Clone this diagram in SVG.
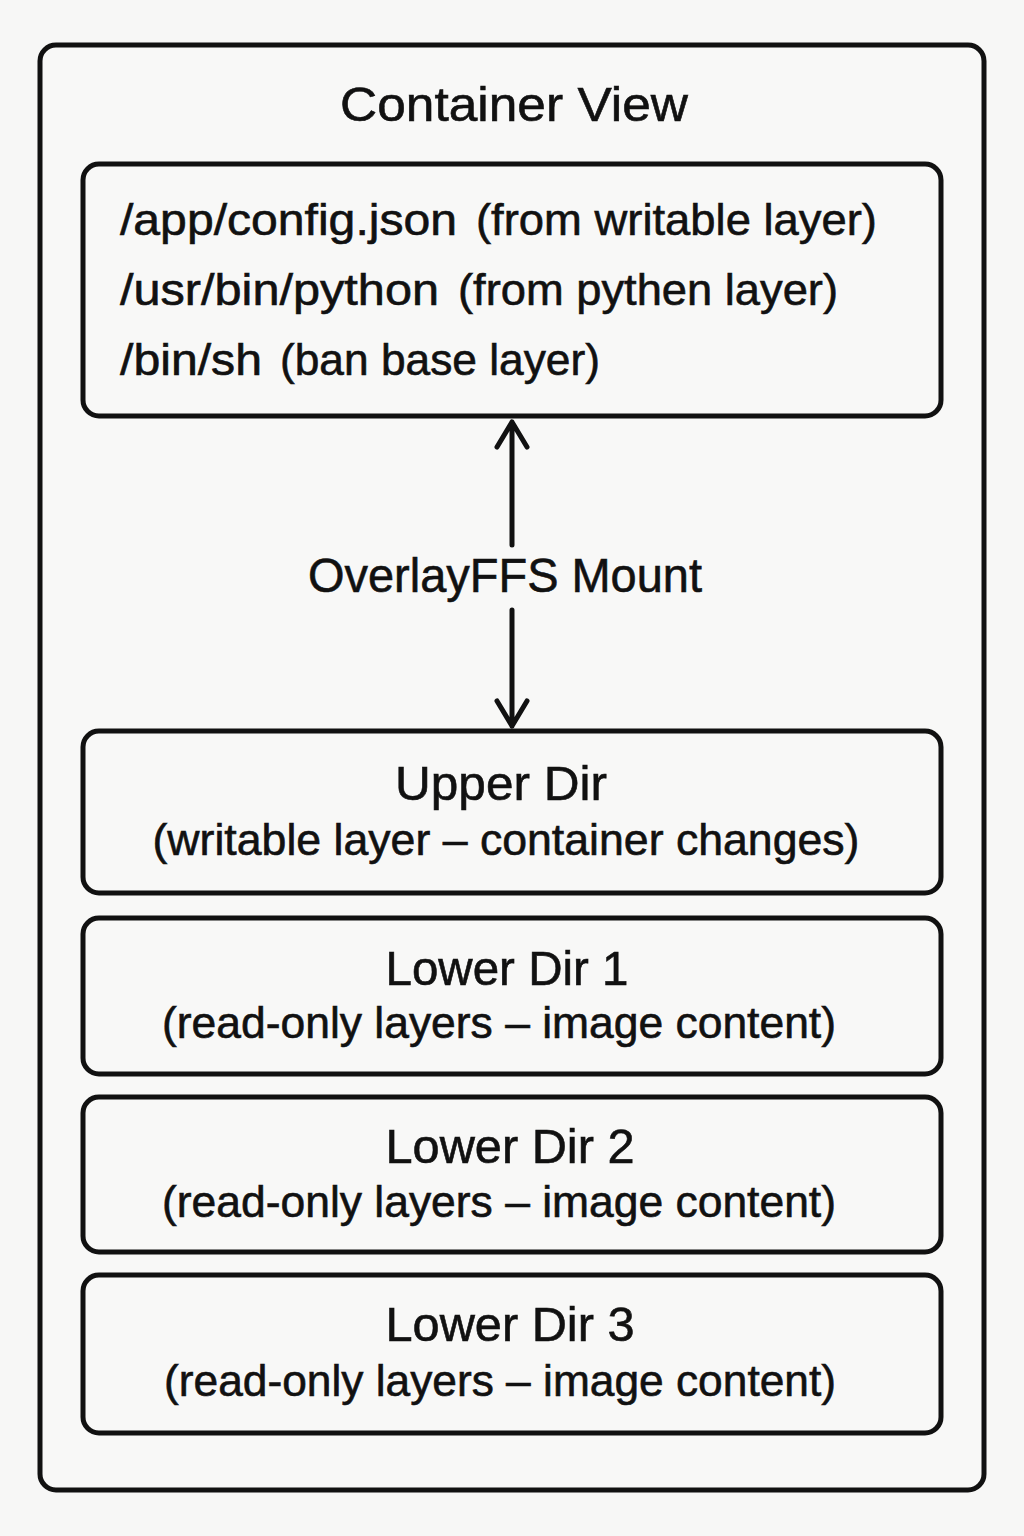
<svg xmlns="http://www.w3.org/2000/svg" width="1024" height="1536" viewBox="0 0 1024 1536">
<defs>
<style>
.box{fill:#f8f8f7;stroke:#111;stroke-width:5}
.t{font-family:"Liberation Sans",Arial,sans-serif;fill:#111;stroke:#111;stroke-width:0.6}
.h{font-size:49px}
.s{font-size:44px}
.conn{stroke:#111;stroke-width:5;fill:none;stroke-linecap:round;stroke-linejoin:round}
</style>
</defs>
<rect width="1024" height="1536" fill="#f7f7f6"/>
<g id="container">
<rect class="box" x="40" y="45" width="944" height="1445" rx="16"/>
<text class="t h" x="514" y="121" text-anchor="middle" textLength="348" lengthAdjust="spacingAndGlyphs">Container View</text>
</g>
<g id="view">
<rect class="box" x="83" y="164" width="858" height="252" rx="16"/>
<text class="t s" x="120" y="235" textLength="337" lengthAdjust="spacingAndGlyphs">/app/config.json</text>
<text class="t s" x="476" y="235" textLength="401" lengthAdjust="spacingAndGlyphs">(from writable layer)</text>
<text class="t s" x="120" y="305" textLength="319" lengthAdjust="spacingAndGlyphs">/usr/bin/python</text>
<text class="t s" x="458" y="305" textLength="380" lengthAdjust="spacingAndGlyphs">(from pythen layer)</text>
<text class="t s" x="120" y="375" textLength="142" lengthAdjust="spacingAndGlyphs">/bin/sh</text>
<text class="t s" x="280" y="375" textLength="320" lengthAdjust="spacingAndGlyphs">(ban base layer)</text>
</g>
<g id="connectors">
<path class="conn" d="M512 545 V422 M497 447 L512 422 L527 447"/>
<path class="conn" d="M512 610 V726 M497 701 L512 726 L527 701"/>
<text class="t h" x="505" y="592" text-anchor="middle" textLength="394" lengthAdjust="spacingAndGlyphs">OverlayFFS Mount</text>
</g>
<g id="upper">
<rect class="box" x="83" y="731" width="858" height="162" rx="16"/>
<text class="t h" x="501" y="800" text-anchor="middle" textLength="212" lengthAdjust="spacingAndGlyphs">Upper Dir</text>
<text class="t s" x="506" y="855" text-anchor="middle" textLength="707" lengthAdjust="spacingAndGlyphs">(writable layer – container changes)</text>
</g>
<g id="lower1">
<rect class="box" x="83" y="918" width="858" height="156" rx="16"/>
<text class="t h" x="507" y="985" text-anchor="middle" textLength="243" lengthAdjust="spacingAndGlyphs">Lower Dir 1</text>
<text class="t s" x="499" y="1038" text-anchor="middle" textLength="674" lengthAdjust="spacingAndGlyphs">(read-only layers – image content)</text>
</g>
<g id="lower2">
<rect class="box" x="83" y="1097" width="858" height="155" rx="16"/>
<text class="t h" x="510" y="1163" text-anchor="middle" textLength="249" lengthAdjust="spacingAndGlyphs">Lower Dir 2</text>
<text class="t s" x="499" y="1217" text-anchor="middle" textLength="674" lengthAdjust="spacingAndGlyphs">(read-only layers – image content)</text>
</g>
<g id="lower3">
<rect class="box" x="83" y="1275" width="858" height="158" rx="16"/>
<text class="t h" x="510" y="1341" text-anchor="middle" textLength="249" lengthAdjust="spacingAndGlyphs">Lower Dir 3</text>
<text class="t s" x="500" y="1396" text-anchor="middle" textLength="672" lengthAdjust="spacingAndGlyphs">(read-only layers – image content)</text>
</g>
</svg>
